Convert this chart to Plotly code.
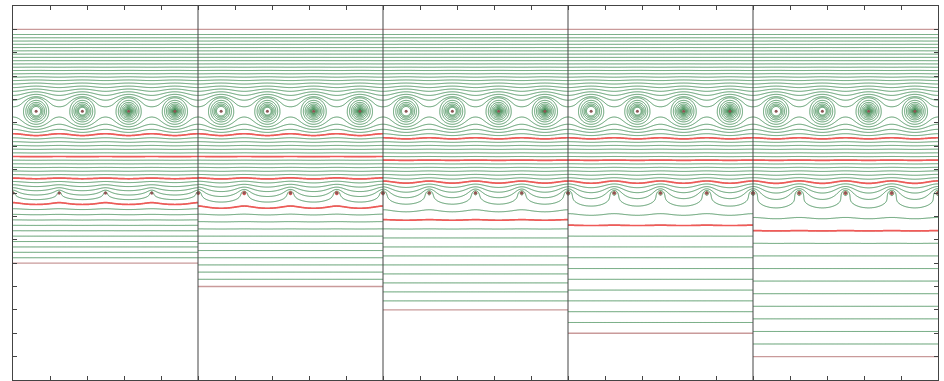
import numpy as np
import plotly.graph_objects as go

# ---------------- values ----------------
bottom_plate_depth = [11, 12, 13, 14, 15]      # bottom plate of each panel
top_plate_depth = 1.0
panel_width = 8.0
rod_row_depth = 4.5                            # row of ringed rods
rod_x = [1.0, 3.0, 5.0, 7.0]
rod_core_radius = [0.17, 0.14, 0.07, 0.015]    # white core of each rod
rod_halo_radius = 0.6
rod_ring_strength = 5.0
rod_row_level = 32.5                           # contour level at the rod row
grid_row_depth = 8.0                           # row of small grid wires
grid_wire_x = [0.0, 2.0, 4.0, 6.0, 8.0]
slope_above_rods = 7.15                        # contour levels per depth unit
levels_below_grid = 13.0
green_top_level = 53
red_first_level = [11, 11, 10, 10, 10]
red_step = 6
red_count = 4
depth_axis = [16, 0]
x_tick_step = 1.6

GREEN = "rgba(60,138,80,0.85)"
RED = "rgba(246,84,84,0.95)"
PLATE = "#c99a9a"
FRAME = "#444444"
DOT = "#8e5656"

period = rod_x[1] - rod_x[0]
k = 2 * np.pi / period


def depth_grid(B):
    parts = [np.arange(top_plate_depth, 3.5, 0.2),
             np.arange(3.5, 5.5, 0.02) + 0.01,
             np.arange(5.5, 7.2, 0.1),
             np.arange(7.2, 9.0, 0.02) + 0.01,
             np.arange(9.0, B, 0.2),
             np.array([top_plate_depth, B])]
    d = np.unique(np.round(np.concatenate(parts), 4))
    return d[(d >= top_plate_depth) & (d <= B)]


def field(xs, ds, B):
    X, D = np.meshgrid(xs, ds)
    a = rod_halo_radius
    G3 = levels_below_grid
    s1 = slope_above_rods
    shield = 1.0 + a * a * k * k / 12.0
    c2 = a * a * k / 4.0 / shield
    s2 = (rod_row_level - G3 + c2 * s1) / (3.5 - c2)
    s_loc = (s1 + s2) / 2.0 / shield
    J = s_loc * a * a * k / 2.0
    s3 = G3 / (B - grid_row_depth)
    q2 = (s2 - s3) / k
    F2_45 = G3 + s2 * (grid_row_depth - rod_row_depth)
    A = np.where(D >= grid_row_depth, s3 * (B - D) - J,
                 np.where(D >= rod_row_depth, G3 + s2 * (grid_row_depth - D) - J,
                          F2_45 - J + s1 * (rod_row_depth - D)))
    # ringed rods: conducting halo + rings
    d1 = D - rod_row_depth
    idx = np.clip(np.floor(X / period), 0, len(rod_x) - 1).astype(int)
    xnear = np.array(rod_x)[idx]
    core = np.array(rod_core_radius)[idx]
    r = np.sqrt((X - xnear) ** 2 + d1 ** 2)
    S1 = np.sinh(k * d1) / (np.cosh(k * d1) - np.cos(k * (X - rod_x[0])))
    T = s_loc * a * a * (k / 2.0 * S1 - d1 / r ** 2 + d1 / np.maximum(r, a) ** 2)
    rings = np.where(r < a, rod_ring_strength * np.log(a / np.maximum(r, core)), 0.0)
    # grid wires: weak line charges
    d2 = D - grid_row_depth
    arg = 2.0 * (np.cosh(k * d2) - np.cos(k * (X - grid_wire_x[0])))
    wires = 0.5 * q2 * (np.log(np.maximum(arg, 1e-12)) - k * np.abs(d2))
    return A + T + rings + wires


fig = go.Figure()
xs = np.linspace(0, panel_width, 321)
xs_red = np.linspace(0, panel_width, 201)

for p, B in enumerate(bottom_plate_depth):
    off = p * panel_width
    ds = depth_grid(B)
    Z = field(xs, ds, B)
    fig.add_trace(go.Contour(
        x=np.round(xs + off, 4), y=ds, z=np.round(Z, 2),
        autocontour=False,
        contours=dict(coloring="none", start=1, end=green_top_level, size=1, showlabels=False),
        line=dict(color=GREEN, width=1),
        showscale=False, hoverinfo="skip"))
    dr = ds[ds >= rod_row_depth]
    Zr = field(xs_red, dr, B)
    lo = red_first_level[p]
    fig.add_trace(go.Contour(
        x=np.round(xs_red + off, 4), y=dr, z=np.round(Zr, 2),
        autocontour=False,
        contours=dict(coloring="none", start=lo, end=lo + red_step * (red_count - 1),
                      size=red_step, showlabels=False),
        line=dict(color=RED, width=1.7),
        showscale=False, hoverinfo="skip"))
    for dpl in (top_plate_depth, B):
        fig.add_trace(go.Scatter(x=[off, off + panel_width], y=[dpl, dpl], mode="lines",
                                 line=dict(color=PLATE, width=1.3), hoverinfo="skip"))
    fig.add_trace(go.Scatter(x=[off + v for v in rod_x], y=[rod_row_depth] * len(rod_x),
                             mode="markers", marker=dict(color=DOT, size=3), hoverinfo="skip"))
    fig.add_trace(go.Scatter(x=[off + v for v in grid_wire_x], y=[grid_row_depth] * len(grid_wire_x),
                             mode="markers", marker=dict(color=DOT, size=3), hoverinfo="skip"))

total_w = panel_width * len(bottom_plate_depth)
shapes = [dict(type="line", x0=p * panel_width, x1=p * panel_width, y0=depth_axis[1], y1=depth_axis[0],
               xref="x", yref="y", line=dict(color=FRAME, width=1))
          for p in range(1, len(bottom_plate_depth))]

axis_common = dict(showgrid=False, zeroline=False, showticklabels=False, ticks="inside",
                   ticklen=4, tickcolor=FRAME, showline=True, linecolor=FRAME, linewidth=1,
                   mirror="ticks")
fig.update_layout(
    width=944, height=381, margin=dict(l=13, r=6, t=6, b=1),
    plot_bgcolor="white", paper_bgcolor="white", showlegend=False,
    xaxis=dict(range=[0, total_w], tick0=0, dtick=x_tick_step, **axis_common),
    yaxis=dict(range=depth_axis, tick0=0, dtick=1, **axis_common),
    shapes=shapes)

fig.write_html("out.html")
